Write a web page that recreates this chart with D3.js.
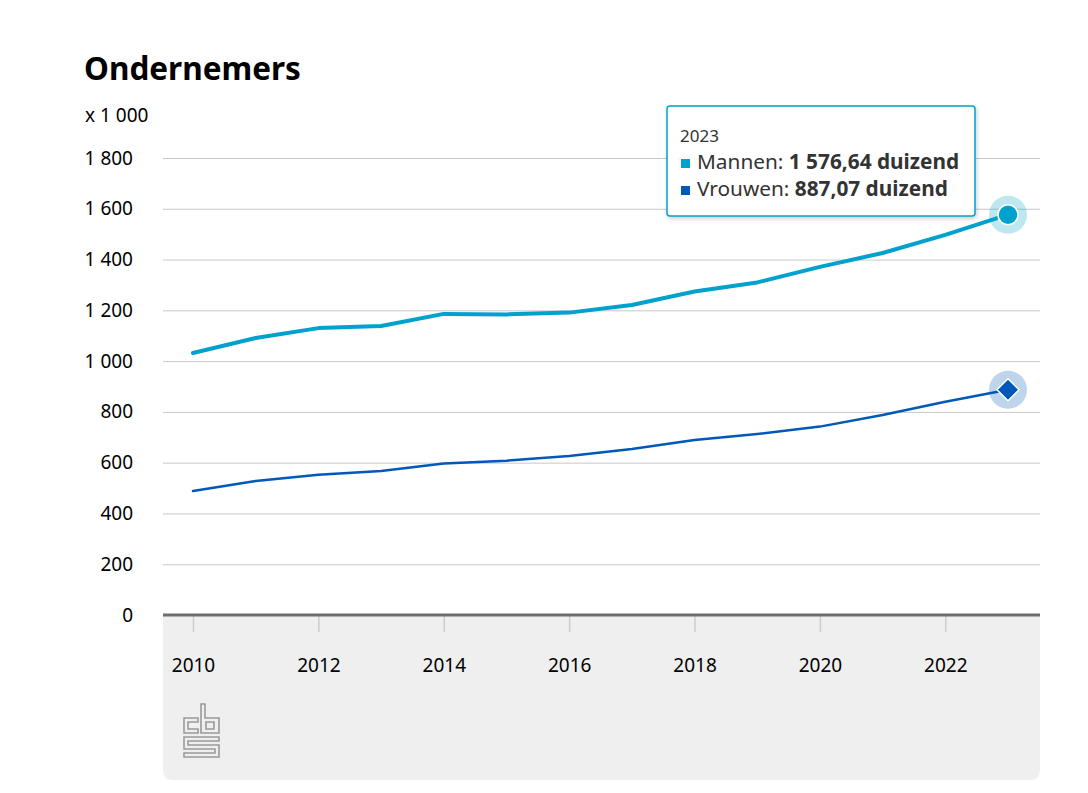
<!DOCTYPE html>
<html>
<head>
<meta charset="utf-8">
<script src="https://cdn.jsdelivr.net/npm/d3@7"></script>
<style>
  html, body { margin: 0; padding: 0; background: #fff; }
  svg { display: block; }
</style>
</head>
<body>
<svg id="chart" width="1088" height="793"></svg>
<script>
const years = [2010,2011,2012,2013,2014,2015,2016,2017,2018,2019,2020,2021,2022,2023];
const mannen = [1032,1091,1130,1138,1186,1184,1191,1221,1274,1310,1371,1426,1497,1576.64];
const vrouwen = [488,528,552,567,597,608,626,654,689,713,742,788,840,887.07];
const yTicks = [0,200,400,600,800,1000,1200,1400,1600,1800];
const xTicks = [2010,2012,2014,2016,2018,2020,2022];
const title = "Ondernemers";
const unitLabel = "x 1 000";
const tipYear = "2023";
const tipMannen = ["Mannen: ", "1 576,64 duizend"];
const tipVrouwen = ["Vrouwen: ", "887,07 duizend"];

const font = "'Noto Sans', 'Open Sans', sans-serif";
const cM = "#00a1cd", cV = "#0058b8";

const svg = d3.select("#chart");
const x = d3.scaleLinear().domain([2010, 2023]).range([193, 1008]);
const y = d3.scaleLinear().domain([0, 1800]).range([615, 158]);
const left = 163, right = 1040;

// bottom grey panel
svg.append("path")
  .attr("d", `M${left},615 H${right} V770 Q${right},780 ${right-10},780 H${left+10} Q${left},780 ${left},770 Z`)
  .attr("fill", "#efefef");

// title
svg.append("text").attr("x", 84).attr("y", 80).text(title)
  .attr("font-family", font).attr("font-weight", 700).attr("font-size", 31.5).attr("fill", "#000");
svg.append("text").attr("x", 85).attr("y", 122).text(unitLabel)
  .attr("font-family", font).attr("font-size", 19).attr("fill", "#000");

// grid
const fmt = d => d3.format(",")(d).replace(/,/g, " ");
const gy = svg.append("g").attr("transform", `translate(${left},0)`)
  .call(d3.axisLeft(y).tickValues(yTicks).tickSize(-(right-left)).tickFormat(fmt));
gy.select(".domain").remove();
gy.selectAll(".tick line").attr("stroke", "#c8c8c8").attr("stroke-width", 1);
gy.selectAll(".tick text").attr("x", -30).attr("dy", "0.32em")
  .attr("font-family", font).attr("font-size", 19).attr("fill", "#000");

// x axis
const gx = svg.append("g").attr("transform", "translate(0,615)")
  .call(d3.axisBottom(x).tickValues(xTicks).tickSize(17).tickFormat(d3.format("d")));
gx.select(".domain").remove();
gx.selectAll(".tick line").attr("stroke", "#cccccc").attr("stroke-width", 1.5);
gx.selectAll(".tick text").attr("y", 51).attr("dy", "0.32em")
  .attr("font-family", font).attr("font-size", 19).attr("fill", "#000");
svg.append("line").attr("x1", left).attr("x2", right).attr("y1", 615).attr("y2", 615)
  .attr("stroke", "#6e6e6e").attr("stroke-width", 3);

// lines
const line = d3.line().x((d, i) => x(years[i])).y(d => y(d));
svg.append("path").datum(vrouwen).attr("d", line).attr("fill", "none")
  .attr("stroke", cV).attr("stroke-width", 2.5).attr("stroke-linejoin", "round").attr("stroke-linecap", "round");
svg.append("path").datum(mannen).attr("d", line).attr("fill", "none")
  .attr("stroke", cM).attr("stroke-width", 4).attr("stroke-linejoin", "round").attr("stroke-linecap", "round");

// markers at last point
const li = years.length - 1;
const mx = x(years[li]), myM = y(mannen[li]), myV = y(vrouwen[li]);
svg.append("circle").attr("cx", mx).attr("cy", myM).attr("r", 19).attr("fill", cM).attr("fill-opacity", 0.25);
svg.append("circle").attr("cx", mx).attr("cy", myM).attr("r", 10).attr("fill", cM).attr("stroke", "#fff").attr("stroke-width", 1.5);
svg.append("circle").attr("cx", mx).attr("cy", myV).attr("r", 19).attr("fill", cV).attr("fill-opacity", 0.25);
svg.append("path").attr("d", `M${mx},${myV-11} L${mx+11},${myV} L${mx},${myV+11} L${mx-11},${myV} Z`)
  .attr("fill", cV).attr("stroke", "#fff").attr("stroke-width", 1.5);

// tooltip
const defs = svg.append("defs");
const f = defs.append("filter").attr("id", "sh").attr("x", "-10%").attr("y", "-10%").attr("width", "130%").attr("height", "140%");
f.append("feDropShadow").attr("dx", 1).attr("dy", 2).attr("stdDeviation", 2).attr("flood-color", "#000").attr("flood-opacity", 0.2);
svg.append("rect").attr("x", 667).attr("y", 106).attr("width", 308).attr("height", 110).attr("rx", 3)
  .attr("fill", "#fff").attr("stroke", cM).attr("stroke-width", 1.5).attr("filter", "url(#sh)");
svg.append("text").attr("x", 680).attr("y", 142).text(tipYear)
  .attr("font-family", font).attr("font-size", 17).attr("fill", "#333");
function tipRow(yy, color, parts) {
  svg.append("rect").attr("x", 681).attr("y", yy - 10).attr("width", 9).attr("height", 9).attr("fill", color);
  const t = svg.append("text").attr("x", 697).attr("y", yy).attr("font-family", font).attr("font-size", 20.8).attr("fill", "#333");
  t.append("tspan").text(parts[0]);
  t.append("tspan").attr("font-weight", 700).text(parts[1]);
}
tipRow(169, cM, tipMannen);
tipRow(196, cV, tipVrouwen);

// CBS logo
const lg = svg.append("g").attr("transform", "translate(184,704)")
  .attr("fill", "none").attr("stroke", "#9a9a9a").attr("stroke-width", 1.6);
lg.append("path").attr("d", "M14,14 H0 V29 H14 V25 H4 V18 H14 Z");
lg.append("path").attr("d", "M17,0 H21 V14 H35 V29 H17 Z");
lg.append("path").attr("d", "M22,18 H30 V25 H22 Z");
lg.append("path").attr("d", "M0,33 H35 V37 H4 V41 H35 V53 H0 V49 H31 V45 H0 Z");
</script>
</body>
</html>
